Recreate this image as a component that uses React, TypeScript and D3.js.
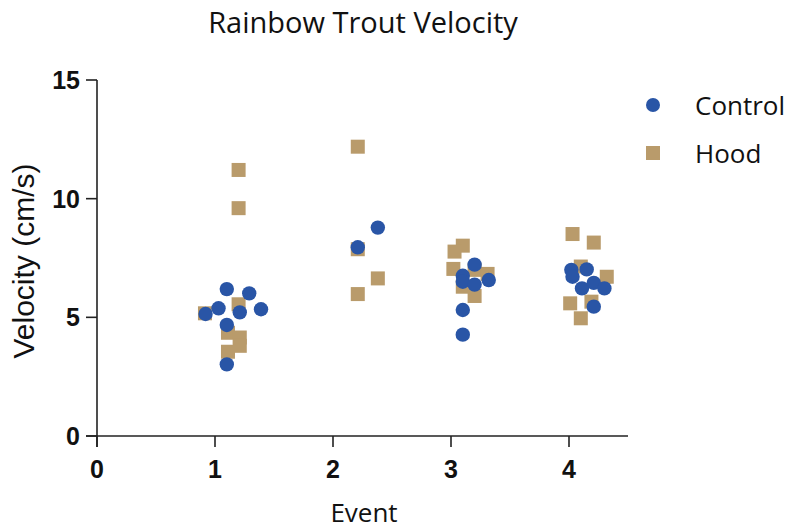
import React from "react";
import * as d3 from "d3";

const title = "Rainbow Trout Velocity";
const xTitle = "Event";
const yTitle = "Velocity (cm/s)";
const xTicks = [0, 1, 2, 3, 4];
const yTicks = [0, 5, 10, 15];
const seriesNames = ["Control", "Hood"];
const seriesColors = ["#2955a6", "#b99b6b"];

const controlX = [0.92, 1.03, 1.10, 1.29, 1.21, 1.39, 1.10, 1.10, 2.21, 2.38, 3.20, 3.10, 3.10, 3.20, 3.32, 3.10, 3.10, 4.02, 4.03, 4.15, 4.11, 4.21, 4.30, 4.21];
const controlY = [5.14, 5.38, 6.19, 6.01, 5.21, 5.34, 4.68, 3.02, 7.95, 8.78, 7.22, 6.75, 6.5, 6.38, 6.57, 5.31, 4.27, 7.0, 6.71, 7.02, 6.22, 6.45, 6.22, 5.45];

const hoodX = [1.20, 1.20, 0.915, 1.20, 1.11, 1.21, 1.21, 1.11, 2.21, 2.21, 2.38, 2.21, 3.10, 3.03, 3.02, 3.20, 3.31, 3.10, 3.20, 4.03, 4.21, 4.10, 4.32, 4.01, 4.19, 4.10];
const hoodY = [11.21, 9.6, 5.17, 5.55, 4.35, 4.15, 3.8, 3.55, 12.19, 7.87, 6.64, 5.98, 8.02, 7.77, 7.04, 7.0, 6.83, 6.29, 5.9, 8.51, 8.15, 7.14, 6.71, 5.59, 5.66, 4.96];

const W = 787;
const H = 529;
const M = { left: 97, right: 628, top: 80, bottom: 436 };
const tickLen = 11;
const axisColor = "#222";

export default function App() {
  const x = d3.scaleLinear().domain([0, 4.5]).range([M.left, M.right]);
  const y = d3.scaleLinear().domain([0, 15]).range([M.bottom, M.top]);
  const sq = 14;
  const r = 7.2;
  const hood = hoodX.map((v, i) => ({ x: v, y: hoodY[i] }));
  const control = controlX.map((v, i) => ({ x: v, y: controlY[i] }));
  const calibri = "'Open Sans', Lato, sans-serif";
  const arial = "'Liberation Sans', Arial, sans-serif";
  return (
    <svg width={W} height={H} style={{ position: "absolute", left: 0, top: 0, background: "#fff" }}>
      <text x={363} y={33} textAnchor="middle" fontFamily={calibri} fontSize={29} fill="#111">{title}</text>
      {/* y axis */}
      <line x1={x(0)} x2={x(0)} y1={y(15)} y2={y(0) + tickLen} stroke={axisColor} strokeWidth={1.6} />
      {yTicks.map((t) => (
        <g key={"y" + t}>
          <line x1={x(0) - tickLen} x2={x(0)} y1={y(t)} y2={y(t)} stroke={axisColor} strokeWidth={1.6} />
          <text x={x(0) - tickLen - 6} y={y(t)} dy="0.36em" textAnchor="end" fontFamily={arial} fontWeight="bold" fontSize={25} fill="#111">{t}</text>
        </g>
      ))}
      {/* x axis */}
      <line x1={x(0) - tickLen} x2={x(4.5)} y1={y(0)} y2={y(0)} stroke={axisColor} strokeWidth={1.6} />
      {xTicks.map((t) => (
        <g key={"x" + t}>
          <line x1={x(t)} x2={x(t)} y1={y(0)} y2={y(0) + tickLen} stroke={axisColor} strokeWidth={1.6} />
          <text x={x(t)} y={y(0) + tickLen + 31} textAnchor="middle" fontFamily={arial} fontWeight="bold" fontSize={25} fill="#111">{t}</text>
        </g>
      ))}
      <text x={364} y={522} textAnchor="middle" fontFamily={calibri} fontSize={26} fill="#111">{xTitle}</text>
      <text transform={`translate(34,261) rotate(-90)`} textAnchor="middle" fontFamily={arial} fontSize={30} fill="#111">{yTitle}</text>
      {/* points */}
      {hood.map((d, i) => (
        <rect key={"h" + i} x={x(d.x) - sq / 2} y={y(d.y) - sq / 2} width={sq} height={sq} fill={seriesColors[1]} />
      ))}
      {control.map((d, i) => (
        <circle key={"c" + i} cx={x(d.x)} cy={y(d.y)} r={r} fill={seriesColors[0]} />
      ))}
      {/* legend */}
      <circle cx={653} cy={105} r={7} fill={seriesColors[0]} />
      <text x={695} y={115} fontFamily={calibri} fontSize={26} fill="#111">{seriesNames[0]}</text>
      <rect x={646} y={146} width={14} height={14} fill={seriesColors[1]} />
      <text x={695} y={163} fontFamily={calibri} fontSize={26} fill="#111">{seriesNames[1]}</text>
    </svg>
  );
}
